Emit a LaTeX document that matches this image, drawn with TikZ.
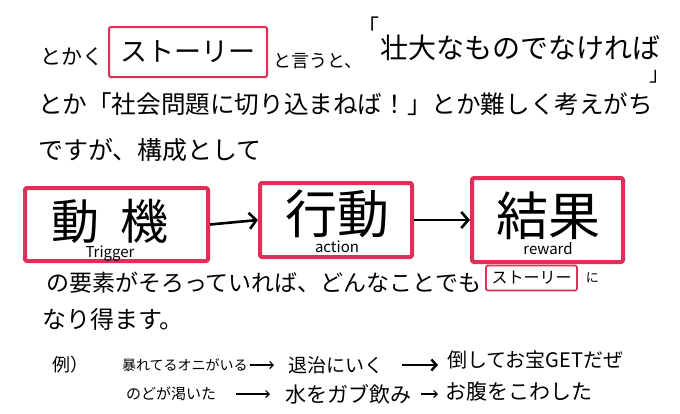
\documentclass[tikz,border=0pt]{standalone}
\usepackage{fontspec}
\newfontfamily\jp{Noto Sans CJK JP}
\usepackage{tikz}
\usetikzlibrary{arrows.meta,positioning}
\definecolor{storyred}{HTML}{DF2E58}
\tikzset{
	txt/.style={inner sep=0pt,outer sep=0pt,font=\jp\fontsize{#1}{#1}\selectfont},
	redbox/.style={draw=storyred,line width=#1,rounded corners=1.5pt,inner sep=0pt},
	stage/.style={redbox=4pt,line join=round},
	flow/.style={-{Straight Barb[length=7pt,width=16pt,line width=2.6pt]},line width=2.6pt},
	thinflow/.style={-{Straight Barb[length=3.5pt,width=7pt]},line width=1.2pt},
	thickflow/.style={-{Straight Barb[length=5pt,width=11pt,line width=2.4pt]},line width=2.4pt}
}
\begin{document}
\begin{tikzpicture}[x=1pt,y=-1pt]
  \useasboundingbox[fill=white] (0,0) rectangle (680,413);
  % first lines
  \node [txt=21,anchor=west] (toka) at (40,57) {とかく};
  \node [redbox=2pt,minimum width=158pt,minimum height=50pt] (story) at (188,52) {};
  \node [txt=27] (storytxt) at (story) {ストーリー};
  \node [txt=18,anchor=west] (iuto) at (273,61) {と言うと、};
  \node [txt=22,anchor=south east] (open) at (379,35) {「};
  \node [txt=28,anchor=west] (grand) at (380,48) {壮大なものでなければ};
  \node [txt=20,anchor=north east] (close) at (669,70) {」};
  \node [txt=24.6,anchor=west] (social) at (38,104) {とか「社会問題に切り込まねば！」とか難しく考えがち};
  \node [txt=25,anchor=west] (desuga) at (38,150) {ですが、構成として};
  % three stages
  \node [stage,minimum width=183pt,minimum height=73pt] (trigger) at (116.5,224.5) {};
  \node [stage,minimum width=152pt,minimum height=74pt] (action) at (336,220) {};
  \node [stage,minimum width=151pt,minimum height=84pt] (reward) at (547.5,220) {};
  \node [txt=48] (triggertxt) at (110,221) {動\hspace{22pt}機};
  \node [txt=52] (actiontxt) at (337,214) {行動};
  \node [txt=52] (rewardtxt) at (548,216) {結果};
  \node [txt=15,below=3pt of triggertxt] (triggerlbl) {Trigger};
  \node [txt=15,below=3pt of actiontxt] (actionlbl) {action};
  \node [txt=15,below=3pt of rewardtxt] (rewardlbl) {reward};
  \draw [flow] (trigger.east) -- (action.west);
  \draw [flow] (action.east) -- (reward.west);
  % after the stages
  \node [txt=23,anchor=west] (youso) at (46,283) {の要素がそろっていれば、どんなことでも};
  \node [redbox=1.6pt,minimum width=91pt,minimum height=25pt] (story2) at (531.5,278) {};
  \node [txt=16] (story2txt) at (story2) {ストーリー};
  \node [txt=13,right=8pt of story2] (ni) {に};
  \node [txt=24,anchor=west] (nari) at (42,319) {なり得ます。};
  % examples
  \node [txt=18,anchor=west] (rei) at (52,365) {例）};
  \node [txt=14,anchor=west] (ex1a) at (122,365) {暴れてるオニがいる};
  \node [txt=19,anchor=west] (ex1b) at (288,365) {退治にいく};
  \node [txt=20,anchor=west] (ex1c) at (447,360) {倒してお宝GETだぜ};
  \node [txt=15,anchor=west] (ex2a) at (126,394) {のどが渇いた};
  \node [txt=21,anchor=west] (ex2b) at (285,394) {水をガブ飲み};
  \node [txt=21,anchor=west] (ex2c) at (445,392) {お腹をこわした};
  \draw [thinflow,shorten <=2pt,shorten >=14pt] (ex1a.east) -- (ex1b.west |- ex1a.east);
  \draw [thickflow,shorten <=19pt,shorten >=9pt] (ex1b.east) -- (ex1c.west |- ex1b.east);
  \draw [thinflow,shorten <=20pt,shorten >=15pt] (ex2a.east) -- (ex2b.west);
  \draw [thinflow,shorten <=10pt,shorten >=7pt] (ex2b.east) -- (ex2c.west |- ex2b.east);
\end{tikzpicture}
\end{document}
